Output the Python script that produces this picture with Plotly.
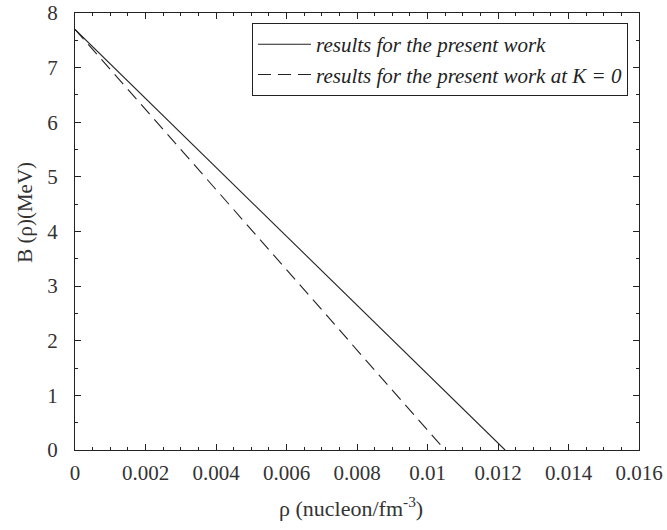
import plotly.graph_objects as go

# Data
rho_present = [0.0, 0.001, 0.002, 0.003, 0.004, 0.005, 0.006, 0.007, 0.008, 0.009, 0.010, 0.011, 0.012, 0.0122]
b_present = [7.70, 7.07, 6.44, 5.80, 5.17, 4.54, 3.91, 3.28, 2.66, 2.02, 1.39, 0.76, 0.13, 0.0]

rho_k0 = [0.0, 0.001, 0.002, 0.003, 0.004, 0.005, 0.006, 0.007, 0.008, 0.009, 0.010, 0.0105]
b_k0 = [7.70, 6.97, 6.23, 5.49, 4.76, 4.03, 3.30, 2.57, 1.83, 1.10, 0.37, 0.0]

x_ticks = [0, 0.002, 0.004, 0.006, 0.008, 0.01, 0.012, 0.014, 0.016]
x_tick_labels = ["0", "0.002", "0.004", "0.006", "0.008", "0.01", "0.012", "0.014", "0.016"]
y_ticks = [0, 1, 2, 3, 4, 5, 6, 7, 8]

name_present = "<i>results for the present work</i>"
name_k0 = "<i>results for the present work at K = 0</i>"
x_title = "\u03c1 (nucleon/fm<sup>-3</sup>)"
y_title = "B (\u03c1)(MeV)"

FONT = "Times New Roman, Liberation Serif, serif"
LINE = "#222222"

fig = go.Figure()
fig.add_trace(go.Scatter(x=rho_present, y=b_present, mode="lines", name=name_present,
                         line=dict(color=LINE, width=1.1)))
fig.add_trace(go.Scatter(x=rho_k0, y=b_k0, mode="lines", name=name_k0,
                         line=dict(color=LINE, width=1.1, dash="13px,7px")))

axis_common = dict(
    showline=True, linecolor="#222", linewidth=1, mirror="allticks",
    ticks="inside", ticklen=6, tickwidth=1, tickcolor="#222",
    showgrid=False, zeroline=False, automargin=False,
    tickfont=dict(family=FONT, size=21, color="#333"),
)

fig.update_xaxes(range=[0, 0.016], tickvals=x_ticks, ticktext=x_tick_labels,
                 minor=dict(dtick=0.0005, ticks="inside", ticklen=3, tickcolor="#222"),
                 ticklabelstandoff=4, **axis_common)
fig.update_yaxes(range=[0, 8], tickvals=y_ticks,
                 minor=dict(dtick=0.5, ticks="inside", ticklen=3, tickcolor="#222"),
                 ticklabelstandoff=12, **axis_common)

fig.add_annotation(text=x_title, xref="paper", yref="paper", x=0.49, y=-0.13,
                   xanchor="center", yanchor="middle", showarrow=False,
                   font=dict(family=FONT, size=22, color="#333"))
fig.add_annotation(text=y_title, xref="paper", yref="paper", x=-0.0887, y=0.545,
                   xanchor="center", yanchor="middle", showarrow=False, textangle=-90,
                   font=dict(family=FONT, size=21, color="#333"))

fig.update_layout(
    width=667, height=530,
    margin=dict(l=75, r=28, t=13, b=80, autoexpand=False),
    paper_bgcolor="white", plot_bgcolor="white",
    showlegend=True,
    legend=dict(x=0.9805, y=0.977, xanchor="right", yanchor="top",
                bordercolor="#222", borderwidth=1, bgcolor="white",
                font=dict(family=FONT, size=21, color="#222"),
                itemwidth=53, tracegroupgap=0),
)

fig.write_html("out.html", config={"displayModeBar": False},
               post_script="document.body.style.margin='0';")
